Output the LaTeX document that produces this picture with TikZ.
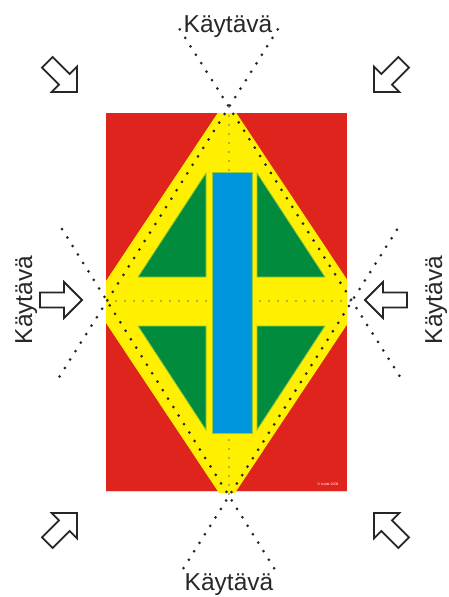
\documentclass[tikz,border=0pt]{standalone}
\usepackage{fontspec}
\setmainfont{Liberation Sans}
\usetikzlibrary{calc}
\definecolor{redbg}{RGB}{222,36,28}
\definecolor{yel}{RGB}{255,240,0}
\definecolor{grn}{RGB}{0,140,60}
\definecolor{blu}{RGB}{0,150,222}
\definecolor{edgec}{RGB}{150,200,60}
\definecolor{cdot}{RGB}{165,155,90}
\definecolor{txt}{RGB}{40,40,40}
\begin{document}
\begin{tikzpicture}[x=1pt,y=-1pt,
 blockarrow/.style={draw=black!85, fill=white, line width=1.8pt, line join=miter},
 dotline/.style={line width=3pt, line cap=round, dash pattern=on 0pt off 10pt, black!85},
 centerdots/.style={line width=2.2pt, line cap=round, dash pattern=on 0pt off 9pt, cdot},
 lbl/.style={font=\fontsize{24.5}{29}\selectfont, text=txt, inner sep=0pt, anchor=base},
 innershape/.style={draw=edgec, line width=0.8pt},
 barrow/.pic={\draw[blockarrow] (0,0) -- (-18,-18) -- (-18,-7.5) -- (-42,-7.5) -- (-42,7.5) -- (-18,7.5) -- (-18,18) -- cycle;}]
\useasboundingbox (0,0) rectangle (449,597);
% red field
\fill[redbg] (106,113) rectangle (347,492);
\begin{scope}
\clip (106,113) rectangle (347,492);
\fill[yel] (227,99) -- (362,302) -- (227,505) -- (92,302) -- cycle;
\end{scope}
\draw[yel, line width=1.5pt] (106,491.5) -- (347,491.5);
% dotted diamond vertices
\coordinate (T) at (229,107);
\coordinate (L) at (107,301);
\coordinate (R) at (352,301);
\coordinate (B) at (229,496);
% centre dotted lines
\draw[centerdots] (L) -- (R);
\draw[centerdots] (T) -- (B);
% green triangles
\filldraw[innershape, fill=grn] (206,173) -- (206,277) -- (138,277) -- cycle;
\filldraw[innershape, fill=grn] (257,173) -- (257,277) -- (325,277) -- cycle;
\filldraw[innershape, fill=grn] (138,326) -- (206,326) -- (206,430) -- cycle;
\filldraw[innershape, fill=grn] (257,326) -- (325,326) -- (257,430) -- cycle;
% blue bar
\filldraw[innershape, fill=blu] (212,172) rectangle (252,433);
% dotted diagonal lines
\draw[dotline] ($(T)!-0.4!(L)$) -- ($(L)!-0.4!(T)$);
\draw[dotline] ($(T)!-0.4!(R)$) -- ($(R)!-0.4!(T)$);
\draw[dotline] ($(B)!-0.37!(L)$) -- ($(L)!-0.4!(B)$);
\draw[dotline] ($(B)!-0.37!(R)$) -- ($(R)!-0.4!(B)$);
% arrows
\pic[rotate=-45] at (77,92) {barrow};
\pic[rotate=-135] at (374,92) {barrow};
\pic[rotate=45] at (77,513) {barrow};
\pic[rotate=135] at (374,513) {barrow};
\pic at (82,300) {barrow};
\pic[rotate=180] at (365,300) {barrow};
% labels
\node[lbl] (ktop) at (228,32) {Käytävä};
\node[lbl] (kbot) at (229,590) {Käytävä};
\node[lbl, rotate=90] (kleft) at (32,300) {Käytävä};
\node[lbl, rotate=90] (kright) at (442,300) {Käytävä};
\node[font=\fontsize{3.5}{4}\selectfont, text=white, inner sep=0pt] (copy) at (328,484) {© Isotta 2008};
\end{tikzpicture}
\end{document}
